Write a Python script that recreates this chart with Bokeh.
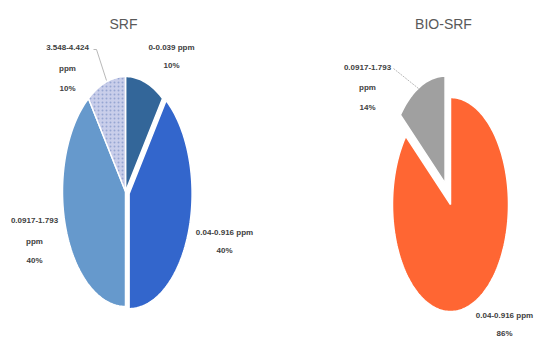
import numpy as np
from bokeh.plotting import figure
from bokeh.models import Range1d
from bokeh.core.properties import value
from bokeh.embed import file_html
from bokeh.resources import INLINE

# ---- data -------------------------------------------------------------
srf_ranges = ["0-0.039 ppm", "0.04-0.916 ppm", "0.0917-1.793 ppm", "3.548-4.424 ppm"]
srf_share = [10, 40, 40, 10]

bio_ranges = ["0.04-0.916 ppm", "0.0917-1.793 ppm"]
bio_share = [86, 14]

# ---- styling ----------------------------------------------------------
W, H = 535, 337
FONT = "Liberation Sans"
srf_colors = ["#336699", "#3366CC", "#6699CC", "#C9CEEA"]
srf_hatch = [None, None, None, "dot"]
srf_explode = [0.0, 0.06, 0.0, 0.0]
bio_colors = ["#FF6633", "#A0A0A0"]
bio_explode = [0.0, 0.22]

p = figure(width=W, height=H, x_range=Range1d(0, W), y_range=Range1d(H, 0),
           output_backend="svg", toolbar_location=None, min_border=0)
p.axis.visible = False
p.grid.visible = False
p.outline_line_color = None
p.background_fill_color = "white"


def pie(values, cx, cy, rx, ry, explode):
    """Slices run clockwise from 12 o'clock on an ellipse of radii rx, ry."""
    total = float(sum(values))
    xs, ys = [], []
    start = 0.0
    for v, e in zip(values, explode):
        span = 2 * np.pi * v / total
        mid = start + span / 2
        ox = cx + e * rx * np.sin(mid)
        oy = cy - e * ry * np.cos(mid)
        t = np.linspace(start, start + span, max(8, int(span * 40)))
        xs.append([ox] + list(ox + rx * np.sin(t)) + [ox])
        ys.append([oy] + list(oy - ry * np.cos(t)) + [oy])
        start += span
    return xs, ys


# SRF pie
sx, sy = pie(srf_share, 125, 191, 63, 115, srf_explode)
for i in range(len(srf_share)):
    kw = {}
    if srf_hatch[i]:
        kw = dict(hatch_pattern="dot", hatch_color="#97A6D2", hatch_scale=4, hatch_weight=1)
    p.patch(sx[i], sy[i], fill_color=srf_colors[i], line_color="white", line_width=1.5, **kw)

# BIO-SRF pie
bx, by = pie(bio_share, 450, 204, 58, 107, bio_explode)
for i in range(len(bio_share)):
    p.patch(bx[i], by[i], fill_color=bio_colors[i], line_color="white", line_width=1.5)

# leader lines
p.line([93, 96, 106], [49, 49, 80], line_color="#A6A6A6", line_width=0.8)
p.line([393, 418], [68, 88], line_color="#A6A6A6", line_width=0.8, line_dash="2 1")

# titles
p.text(x=[123, 443], y=[23, 23], text=["SRF", "BIO-SRF"], text_font=value(FONT),
       text_font_size="14px", text_color="#595959", text_align="center",
       text_baseline="middle")


def label(lines, x, ys):
    p.text(x=[x] * len(lines), y=ys, text=lines, text_font=value(FONT),
           text_font_size="8px", text_color="#404040", text_align="center",
           text_baseline="middle", text_font_style="bold")


def split(name):
    lo, unit = name.split(" ")
    return lo, unit


# SRF labels
label([srf_ranges[0], f"{srf_share[0]}%"], 171, [47, 65])
label([srf_ranges[1], f"{srf_share[1]}%"], 224, [232, 250])
lo, unit = split(srf_ranges[2])
label([lo, unit, f"{srf_share[2]}%"], 34, [220, 241, 260])
lo, unit = split(srf_ranges[3])
label([lo, unit, f"{srf_share[3]}%"], 67, [47, 68, 88])

# BIO-SRF labels
label([bio_ranges[0], f"{bio_share[0]}%"], 504, [315, 333])
lo, unit = split(bio_ranges[1])
label([lo, unit, f"{bio_share[1]}%"], 367, [67, 87, 107])

open("out.html", "w").write(file_html(p, INLINE))
